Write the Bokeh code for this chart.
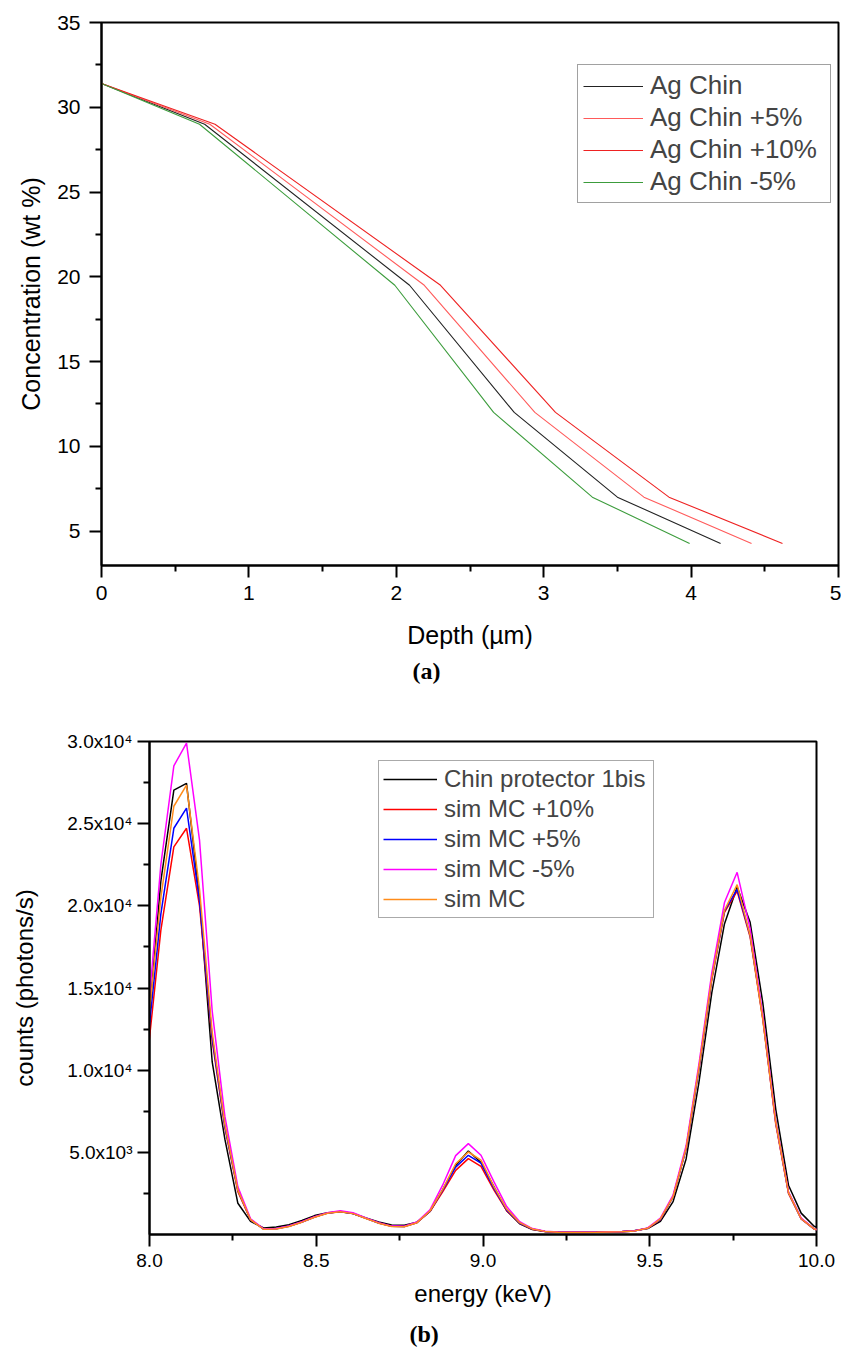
from bokeh.plotting import figure
from bokeh.models import Range1d, FixedTicker, Legend, LegendItem, Title
from bokeh.embed import file_html
from bokeh.resources import INLINE

# ---------------- panel (a) data ----------------
conc_wt = [31.4, 29.0, 19.5, 12.0, 7.0, 4.27]
depth_ag_chin = [0.0, 0.70, 2.09, 2.80, 3.50, 4.20]
depth_plus5 = [0.0, 0.735, 2.19, 2.94, 3.68, 4.41]
depth_plus10 = [0.0, 0.77, 2.30, 3.08, 3.85, 4.62]
depth_minus5 = [0.0, 0.665, 1.99, 2.66, 3.33, 3.99]
labels_a = ["Ag Chin", "Ag Chin +5%", "Ag Chin +10%", "Ag Chin -5%"]
xticks_a = [0, 1, 2, 3, 4, 5]
xminor_a = [0.5, 1.5, 2.5, 3.5, 4.5]
yticks_a = [5, 10, 15, 20, 25, 30, 35]
yminor_a = [7.5, 12.5, 17.5, 22.5, 27.5, 32.5]

# ---------------- panel (b) data ----------------
energy_kev = [7.996, 8.034, 8.073, 8.111, 8.150, 8.188, 8.226, 8.265, 8.303, 8.342,
              8.380, 8.418, 8.457, 8.495, 8.534, 8.572, 8.610, 8.649, 8.687, 8.726,
              8.764, 8.802, 8.841, 8.879, 8.918, 8.956, 8.994, 9.033, 9.071, 9.110,
              9.148, 9.186, 9.225, 9.263, 9.302, 9.340, 9.378, 9.417, 9.455, 9.494,
              9.532, 9.570, 9.609, 9.647, 9.686, 9.724, 9.762, 9.801, 9.839, 9.878,
              9.916, 9.954, 9.993, 10.031]
chin_protector = [12500, 21500, 27040, 27450, 20500, 10500, 5800, 1900, 800, 400,
                  450, 600, 850, 1150, 1320, 1380, 1280, 1000, 760, 580,
                  560, 750, 1400, 2700, 4200, 5080, 4380, 2900, 1450, 650,
                  300, 180, 140, 130, 140, 150, 170, 190, 240, 360,
                  800, 2000, 4600, 9200, 14700, 18900, 21150, 19000, 14100, 7600,
                  3000, 1300, 500, 200]
sim_plus10 = [11200, 18500, 23590, 24720, 20000, 11800, 6500, 2600, 900, 330,
              350, 500, 760, 1060, 1300, 1400, 1280, 980, 700, 500,
              480, 720, 1400, 2600, 3900, 4620, 4140, 2700, 1450, 680,
              320, 180, 140, 120, 120, 130, 150, 170, 220, 380,
              900, 2300, 5200, 10000, 15500, 19600, 20900, 18100, 13100, 6700,
              2500, 950, 330, 150]
sim_plus5 = [12000, 19500, 24720, 25950, 20300, 12000, 6600, 2700, 900, 330,
             350, 500, 760, 1060, 1300, 1400, 1280, 980, 700, 500,
             480, 730, 1420, 2700, 4100, 4820, 4340, 2800, 1500, 700,
             330, 190, 140, 120, 120, 130, 150, 170, 220, 380,
             920, 2320, 5220, 10050, 15600, 19700, 21000, 18200, 13200, 6800,
             2550, 970, 340, 150]
sim_minus5 = [13500, 22500, 28520, 29900, 24000, 13600, 7200, 2900, 950, 350,
              370, 520, 780, 1080, 1330, 1450, 1320, 1000, 720, 510,
              500, 760, 1500, 3000, 4800, 5530, 4820, 3200, 1700, 780,
              360, 200, 150, 130, 130, 140, 160, 180, 230, 400,
              1000, 2400, 5400, 10300, 15900, 20200, 22040, 18600, 13300, 6850,
              2600, 1000, 350, 150]
sim_mc = [12800, 20500, 26060, 27350, 21000, 12300, 6700, 2700, 900, 320,
          340, 490, 750, 1050, 1290, 1390, 1270, 970, 690, 490,
          470, 720, 1430, 2750, 4300, 5020, 4530, 2900, 1550, 720,
          340, 190, 140, 120, 120, 130, 150, 170, 220, 380,
          950, 2300, 5250, 10100, 15600, 19730, 21290, 18200, 13100, 6800,
          2550, 960, 340, 150]
labels_b = ["Chin protector 1bis", "sim MC +10%", "sim MC +5%", "sim MC -5%", "sim MC"]
xticks_b = [8, 8.5, 9, 9.5, 10]
xticklabels_b = ["8.0", "8.5", "9.0", "9.5", "10.0"]
xminor_b = [8.25, 8.75, 9.25, 9.75]
yticks_b = [5000, 10000, 15000, 20000, 25000, 30000]
yticklabels_b = ["5.0x10\u00b3", "1.0x10\u2074", "1.5x10\u2074", "2.0x10\u2074",
                 "2.5x10\u2074", "3.0x10\u2074"]
yminor_b = [2500, 7500, 12500, 17500, 22500, 27500]

FONT = "Liberation Sans"


def style_axes(p, tick_size, label_size):
    for ax in p.axis:
        ax.axis_line_width = 2
        ax.axis_line_color = "black"
        ax.major_tick_line_width = 2
        ax.minor_tick_line_width = 2
        ax.major_tick_out = 12
        ax.major_tick_in = 0
        ax.minor_tick_out = 6
        ax.minor_tick_in = 0
        ax.major_label_text_font = FONT
        ax.major_label_text_font_size = tick_size
        ax.major_label_text_color = "black"
        ax.axis_label_text_font = FONT
        ax.axis_label_text_font_size = label_size
        ax.axis_label_text_font_style = "normal"
        ax.axis_label_text_color = "black"
    p.xgrid.visible = False
    p.ygrid.visible = False
    p.outline_line_color = "black"
    p.outline_line_width = 2
    p.outline_line_alpha = 1


# ---------------- panel (a) ----------------
p1 = figure(width=841, height=700, x_range=Range1d(0, 5), y_range=Range1d(2.97, 35),
            output_backend="svg", toolbar_location=None,
            min_border_left=101, min_border_right=3, min_border_top=22,
            min_border_bottom=135)
p1.xaxis.axis_label = "Depth (\u00b5m)"
p1.yaxis.axis_label = "Concentration (wt %)"
p1.xaxis.ticker = FixedTicker(ticks=xticks_a, minor_ticks=xminor_a)
p1.yaxis.ticker = FixedTicker(ticks=yticks_a, minor_ticks=yminor_a)
style_axes(p1, "21px", "25px")
p1.xaxis.major_label_standoff = 8
p1.yaxis.major_label_standoff = 9
p1.xaxis.axis_label_standoff = 18
p1.yaxis.axis_label_standoff = 9

colors_a = ["#222222", "#ff5a5a", "#ee2222", "#3c9c3c"]
depths_a = [depth_ag_chin, depth_plus5, depth_plus10, depth_minus5]
items_a = []
for lab, col, dep in zip(labels_a, colors_a, depths_a):
    r = p1.line(dep, conc_wt, line_color=col, line_width=1.1)
    items_a.append(LegendItem(label=lab, renderers=[r]))

leg_a = Legend(items=items_a, location=(476, 362), padding=5, spacing=1, margin=0,
               glyph_width=60, glyph_height=20, label_standoff=7, label_width=175,
               label_text_font=FONT, label_text_font_size="26px",
               border_line_color="#444444", border_line_width=1.5,
               background_fill_color="white", background_fill_alpha=1)
p1.add_layout(leg_a)
p1.add_layout(Title(text="(a)", align="left", offset=311, standoff=8,
                    text_font="Liberation Serif", text_font_style="bold",
                    text_font_size="24px", text_color="black"), "below")

# ---------------- panel (b) ----------------
p2 = figure(width=841, height=659, x_range=Range1d(8, 10), y_range=Range1d(0, 30000),
            output_backend="svg", toolbar_location=None,
            min_border_left=149, min_border_right=25, min_border_top=41,
            min_border_bottom=125)
p2.xaxis.axis_label = "energy (keV)"
p2.yaxis.axis_label = "counts (photons/s)"
p2.xaxis.ticker = FixedTicker(ticks=xticks_b, minor_ticks=xminor_b)
p2.yaxis.ticker = FixedTicker(ticks=yticks_b, minor_ticks=yminor_b)
p2.xaxis.major_label_overrides = dict(zip(xticks_b, xticklabels_b))
p2.yaxis.major_label_overrides = dict(zip(yticks_b, yticklabels_b))
style_axes(p2, "19px", "24px")
p2.xaxis.major_label_standoff = 7
p2.yaxis.major_label_standoff = 5
p2.xaxis.axis_label_standoff = 10
p2.yaxis.axis_label_standoff = 26

colors_b = ["#000000", "#ff0000", "#0000ff", "#ff00ff", "#ff8c1a"]
series_b = [chin_protector, sim_plus10, sim_plus5, sim_minus5, sim_mc]
items_b = []
for lab, col, ser in zip(labels_b, colors_b, series_b):
    r = p2.line(energy_kev, ser, line_color=col, line_width=1.5)
    items_b.append(LegendItem(label=lab, renderers=[r]))

leg_b = Legend(items=items_b, location=(229, 316), padding=4, spacing=2, margin=0,
               glyph_width=54, glyph_height=20, label_standoff=7, label_width=205,
               label_text_font=FONT, label_text_font_size="24px",
               border_line_color="#555555", border_line_width=1.5,
               background_fill_color="white", background_fill_alpha=1)
p2.add_layout(leg_b)
p2.add_layout(Title(text="(b)", align="left", offset=260, standoff=18,
                    text_font="Liberation Serif", text_font_style="bold",
                    text_font_size="24px", text_color="black"), "below")

open("out.html", "w").write(file_html([p1, p2], INLINE))
